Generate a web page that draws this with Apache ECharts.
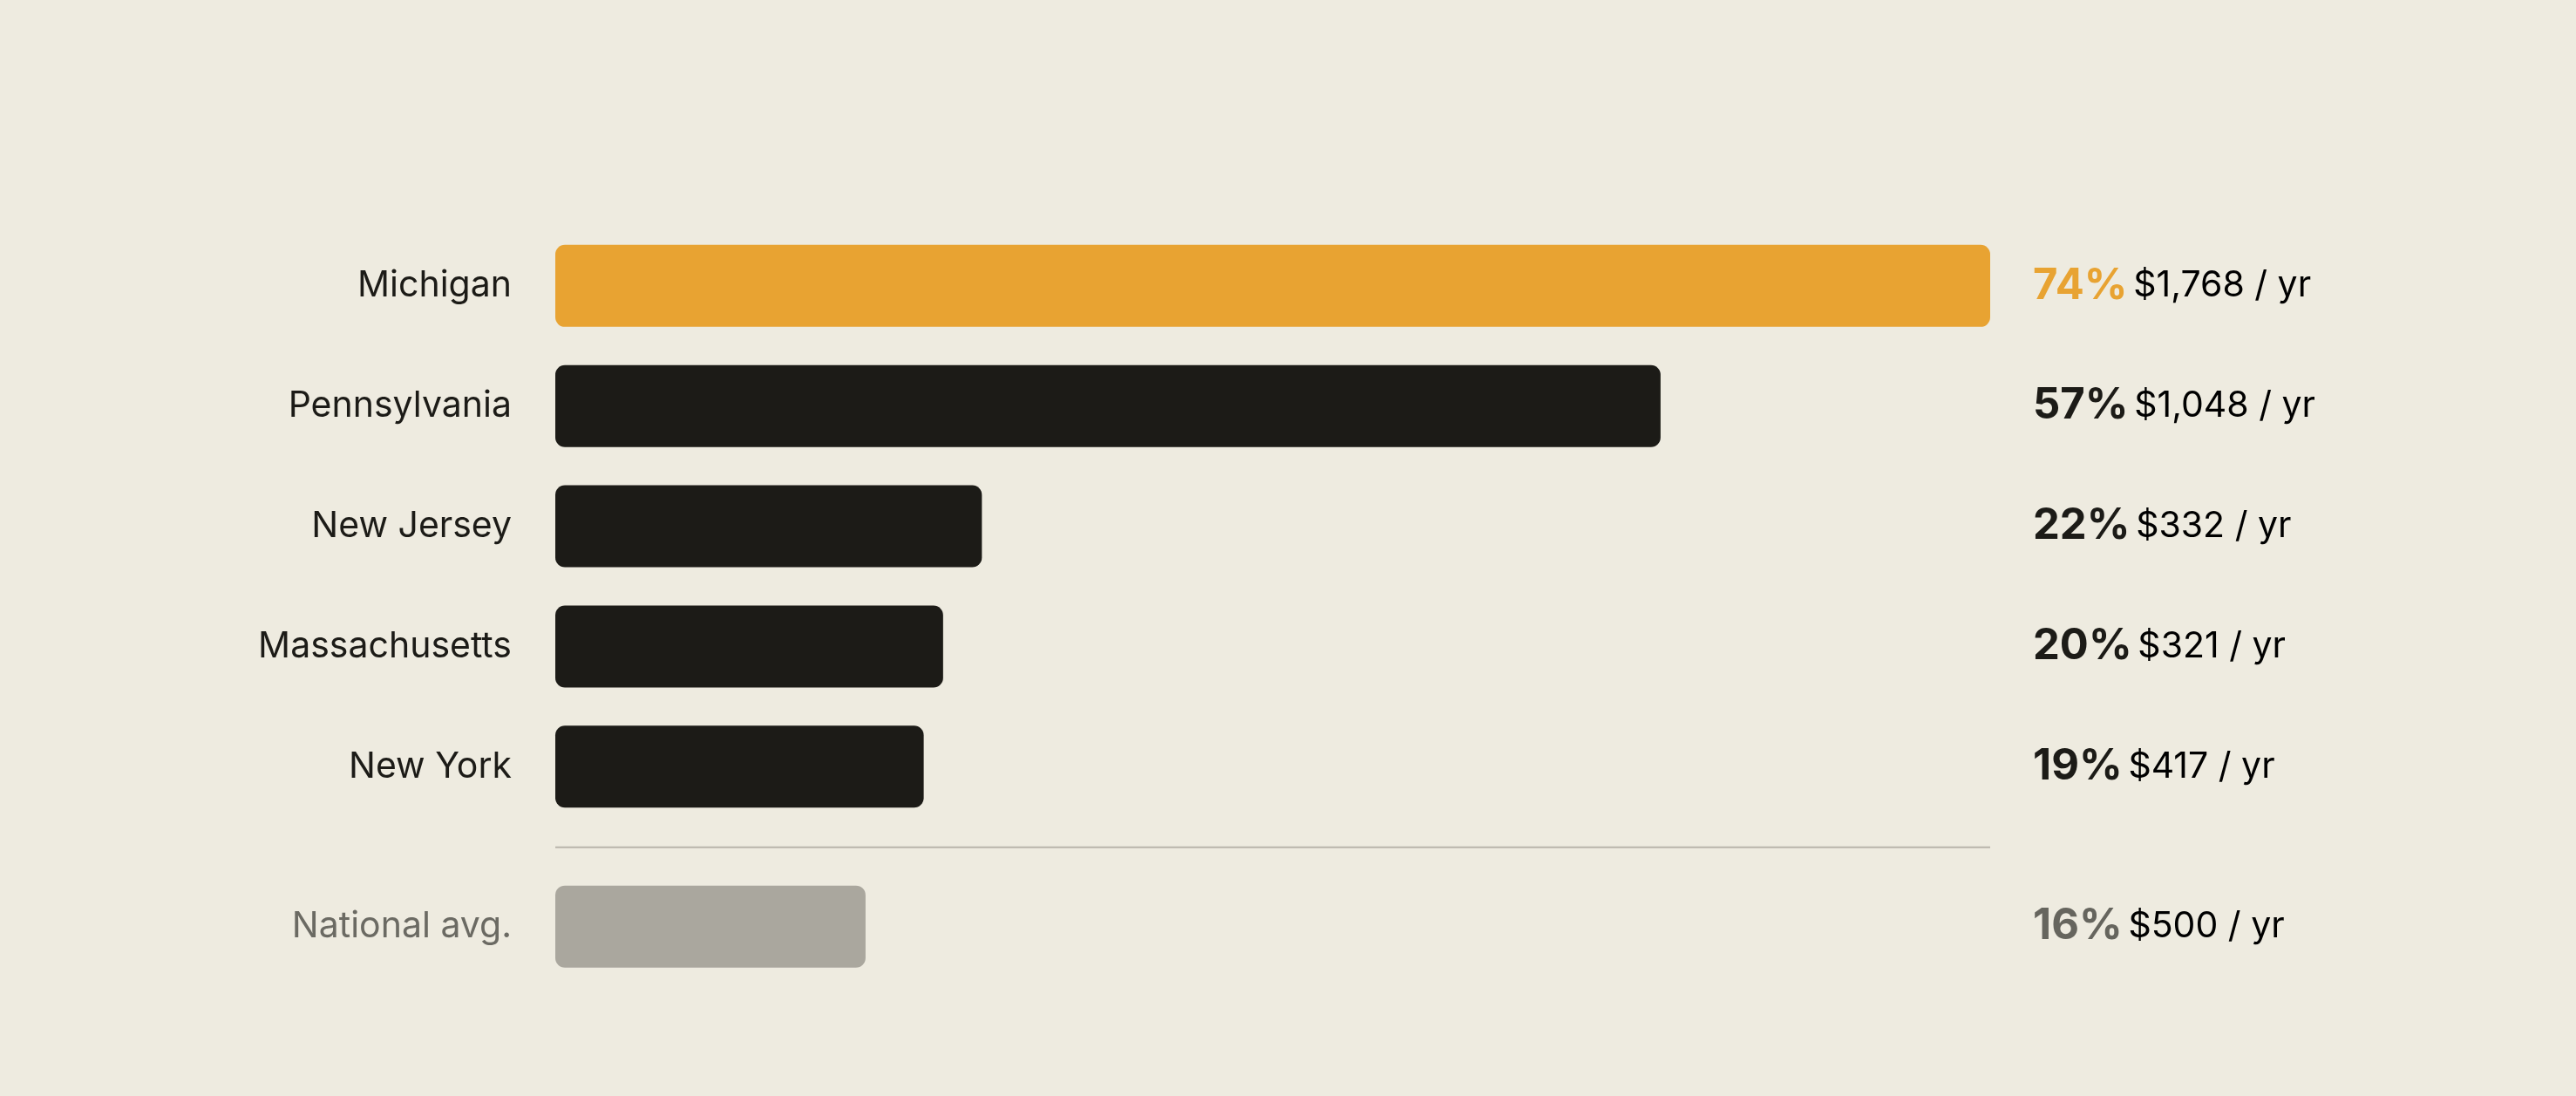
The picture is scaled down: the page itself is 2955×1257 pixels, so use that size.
<!DOCTYPE html>
<html>
<head>
<meta charset="utf-8">
<script src="https://cdn.jsdelivr.net/npm/echarts@6/dist/echarts.min.js"></script>
<style>
  html, body { margin: 0; padding: 0; background: #eeebe0; }
  #title {
    position: absolute; left: 145px; top: 148px;
    font-family: Inter, sans-serif; font-size: 37px; letter-spacing: 6.6px;
    color: #1c1b17; white-space: nowrap;
  }
  #chart { width: 2955px; height: 1257px; }
</style>
</head>
<body>
<div id="title">BLACK–WHITE HOMEOWNERS INSURANCE PREMIUM GAP · SELECTED STATES</div>
<div id="chart"></div>
<script>
// 数据
const states = ['Michigan', 'Pennsylvania', 'New Jersey', 'Massachusetts', 'New York', 'National avg.'];
const gapPct = [74, 57, 22, 20, 19, 16];
const premiumGap = ['$1,768 / yr', '$1,048 / yr', '$332 / yr', '$321 / yr', '$417 / yr', '$500 / yr'];
const rowPos = [0, 1, 2, 3, 4, 5.33];

const barColors = ['#e8a332', '#1c1b17', '#1c1b17', '#1c1b17', '#1c1b17', '#aaa79e'];
const pctColors = ['#e8a332', '#1c1b17', '#1c1b17', '#1c1b17', '#1c1b17', '#66655e'];
const nameColors = ['#1c1b17', '#1c1b17', '#1c1b17', '#1c1b17', '#1c1b17', '#6b6a63'];

const chart = echarts.init(document.getElementById('chart'));
const data = states.map((s, i) => [gapPct[i], rowPos[i], i]);

function renderItem(params, api) {
  const i = api.value(2);
  const start = api.coord([0, api.value(1)]);
  const end = api.coord([api.value(0), api.value(1)]);
  const h = 94;
  const children = [
    {
      type: 'rect',
      shape: { x: start[0], y: start[1] - h / 2, width: end[0] - start[0], height: h, r: 11 },
      style: { fill: barColors[i] }
    },
    {
      type: 'text',
      x: start[0] - 50, y: start[1],
      style: {
        text: states[i], align: 'right', verticalAlign: 'middle',
        font: '41px Inter, sans-serif', fill: nameColors[i]
      }
    },
    {
      type: 'text',
      x: api.coord([74, 0])[0] + 49, y: start[1],
      style: {
        text: '{p|' + gapPct[i] + '%}  {d|' + premiumGap[i] + '}',
        verticalAlign: 'middle',
        rich: {
          p: { fontFamily: 'Inter', fontWeight: 'bold', fontSize: 49, fill: pctColors[i], color: pctColors[i] },
          d: { fontFamily: 'Inter', fontSize: 41, color: '#6b6a63' }
        }
      }
    }
  ];
  if (i === states.length - 1) {
    const a = api.coord([0, 4.67]);
    const b = api.coord([74, 4.67]);
    children.push({
      type: 'line',
      shape: { x1: a[0], y1: a[1], x2: b[0], y2: b[1] },
      style: { stroke: '#b8b5ab', lineWidth: 2 }
    });
  }
  return { type: 'group', children: children };
}

chart.setOption({
  backgroundColor: '#eeebe0',
  animation: false,
  grid: { left: 637, width: 1646, top: 190, height: 965 },
  xAxis: { type: 'value', min: 0, max: 74, show: false },
  yAxis: { type: 'value', min: -1, max: 6, inverse: true, show: false },
  series: [{
    type: 'custom',
    renderItem: renderItem,
    encode: { x: 0, y: 1 },
    data: data
  }]
});
</script>
</body>
</html>
